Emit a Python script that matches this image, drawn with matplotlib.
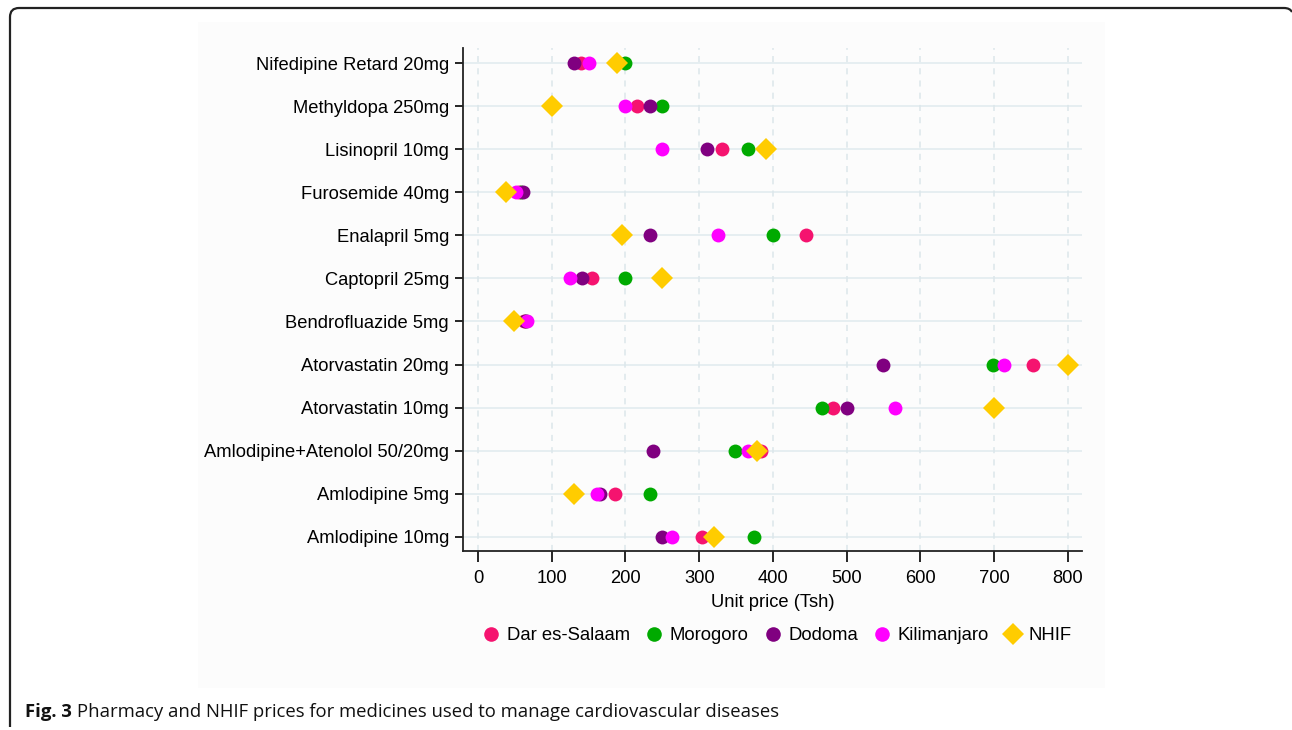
import matplotlib
matplotlib.use("Agg")
import matplotlib.pyplot as plt
from matplotlib.patches import Rectangle
from matplotlib.path import Path
from matplotlib.patches import PathPatch

# medicines, bottom to top
medicines = ["Amlodipine 10mg", "Amlodipine 5mg", "Amlodipine+Atenolol 50/20mg",
             "Atorvastatin 10mg", "Atorvastatin 20mg", "Bendrofluazide 5mg",
             "Captopril 25mg", "Enalapril 5mg", "Furosemide 40mg",
             "Lisinopril 10mg", "Methyldopa 250mg", "Nifedipine Retard 20mg"]

dar_es_salaam = [304, 186, 384, 481, 753, 62, 154, 445, 56, 331, 216, 140]
morogoro      = [374, 233, 349, 466, 699, 65, 199, 400, 58, 366, 250, 200]
dodoma        = [249, 166, 237, 500, 549, 64, 141, 233, 61, 311, 233, 130]
kilimanjaro   = [263, 162, 366, 566, 713, 67, 125, 325, 51, 250, 199, 150]
nhif          = [320, 130, 379, 700, 800, 49, 250, 195, 38, 390, 100, 188]

x_ticks = [0, 100, 200, 300, 400, 500, 600, 700, 800]

W, H = 1292, 730
fig = plt.figure(figsize=(W / 100, H / 100), dpi=100)
plt.rcParams["font.family"] = ["Liberation Sans", "DejaVu Sans"]

# light panel behind the chart
fig.patches.append(Rectangle((198 / W, 1 - 688 / H), (1105 - 198) / W, (688 - 22) / H,
                             transform=fig.transFigure, facecolor="#fcfcfc",
                             edgecolor="none", zorder=-2))

# page frame (open at the bottom)
r = 9
verts = [(10, 727), (10, 8 + r), (10, 8), (10 + r, 8), (1284, 8), (1290, 8), (1292, 12)]
codes = [Path.MOVETO, Path.LINETO, Path.CURVE3, Path.CURVE3, Path.LINETO, Path.CURVE3, Path.CURVE3]
verts = [(x / W, 1 - y / H) for x, y in verts]
fig.patches.append(PathPatch(Path(verts, codes), transform=fig.transFigure,
                             facecolor="none", edgecolor="#222222", lw=1.6, zorder=-1))

ax = fig.add_axes([463 / W, 1 - 551 / H, (1082 - 463) / W, (551 - 48) / H])
ax.set_zorder(2)
ax.set_facecolor("none")

ypos = list(range(len(medicines)))
series = [("Dar es-Salaam", dar_es_salaam, "#f5136f", "o"),
          ("Morogoro", morogoro, "#00aa00", "o"),
          ("Dodoma", dodoma, "#800080", "o"),
          ("Kilimanjaro", kilimanjaro, "#ff00ff", "o"),
          ("NHIF", nhif, "#ffcc00", "D")]
for name, vals, col, mk in series:
    ax.plot(vals, ypos, linestyle="none", marker=mk, color=col,
            markersize=10 if mk == "o" else 11, markeredgewidth=0, label=name, zorder=3)

ax.set_xlim(-20.3, 819)
ax.set_ylim(-0.33, len(medicines) - 1 + 0.35)
ax.set_xticks(x_ticks)
ax.set_yticks(ypos)
ax.set_yticklabels(medicines)
ax.tick_params(axis="y", length=6, width=1.2, labelsize=13.2, pad=4)
ax.tick_params(axis="x", length=8, width=1.2, labelsize=13.2, pad=6)

for y in ypos:
    ax.axhline(y, color="#e4edf0", lw=1.3, zorder=1)
for x in x_ticks:
    ax.axvline(x, color="#dce7eb", lw=1.1, ls=(0, (4, 4)), zorder=1)

for s in ["top", "right"]:
    ax.spines[s].set_visible(False)
for s in ["left", "bottom"]:
    ax.spines[s].set_linewidth(1.3)
    ax.spines[s].set_color("#222222")

ax.set_xlabel("Unit price (Tsh)", fontsize=13.2, labelpad=5)

fig.legend(loc="center", bbox_to_anchor=(777 / W, 1 - 636 / H), ncol=5, frameon=False,
           fontsize=13.3, handletextpad=0.35, columnspacing=0.8, handlelength=1.0,
           markerscale=1.05)

# caption
t1 = fig.text(25 / W, 1 - 712 / H, "Fig. 3", fontsize=13.3, fontweight="bold",
              family="Open Sans", va="center", ha="left", color="#111111")
fig.canvas.draw()
bb = t1.get_window_extent()
fig.text((bb.x1 + 5) / W, 1 - 712 / H,
         "Pharmacy and NHIF prices for medicines used to manage cardiovascular diseases",
         fontsize=13.3, family="Open Sans", va="center", ha="left", color="#111111")

fig.savefig("out.png", dpi=100)
